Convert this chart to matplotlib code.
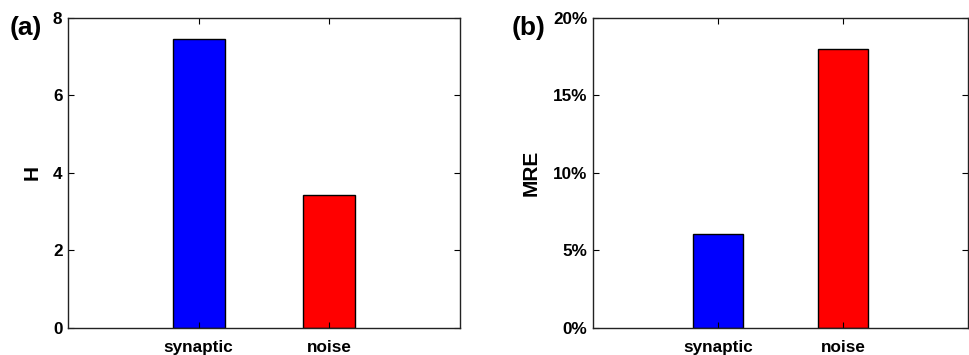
import matplotlib
matplotlib.use("Agg")
import matplotlib.pyplot as plt
from matplotlib.ticker import FuncFormatter

# data
categories = ["synaptic", "noise"]
h_values = [7.46, 3.42]
mre_values = [6.05, 18.0]  # percent
bar_colors = ["#0000ff", "#ff0000"]

plt.rcParams["font.family"] = ["Liberation Sans", "DejaVu Sans"]
plt.rcParams["font.weight"] = "bold"

fig = plt.figure(figsize=(9.69, 3.55), dpi=100)
ax_a = fig.add_axes([0.0702, 0.0761, 0.4045, 0.8732])
ax_b = fig.add_axes([0.6120, 0.0761, 0.3870, 0.8732])


def style_axis(ax):
    ax.set_xlim(0, 3)
    ax.set_xticks(range(1, len(categories) + 1))
    ax.set_xticklabels(categories, fontsize=12.3, fontweight="bold")
    ax.tick_params(direction="in", top=True, right=True, length=4, width=0.8)
    ax.tick_params(axis="x", pad=9)
    ax.tick_params(axis="y", pad=4, labelsize=12.3)
    for lbl in ax.get_yticklabels():
        lbl.set_fontweight("bold")
    for sp in ax.spines.values():
        sp.set_linewidth(1.0)
        sp.set_color("#222222")


x = range(1, len(categories) + 1)

# (a) H
ax_a.bar(x, h_values, width=0.4, color=bar_colors, edgecolor="black", linewidth=1.0)
ax_a.set_ylim(0, 8)
ax_a.set_yticks([0, 2, 4, 6, 8])
style_axis(ax_a)
ax_a.set_ylabel("H", fontsize=15, fontweight="bold", labelpad=8)
fig.text(0.010, 0.92, "(a)", fontsize=19, fontweight="bold", ha="left", va="center")

# (b) MRE
ax_b.bar(x, mre_values, width=0.4, color=bar_colors, edgecolor="black", linewidth=1.0)
ax_b.set_ylim(0, 20)
ax_b.set_yticks([0, 5, 10, 15, 20])
ax_b.yaxis.set_major_formatter(FuncFormatter(lambda v, p: f"{v:.0f}%"))
style_axis(ax_b)
ax_b.set_ylabel("MRE", fontsize=15, fontweight="bold", labelpad=9)
fig.text(0.528, 0.92, "(b)", fontsize=19, fontweight="bold", ha="left", va="center")

fig.savefig("out.png", dpi=100)
plt.close(fig)
